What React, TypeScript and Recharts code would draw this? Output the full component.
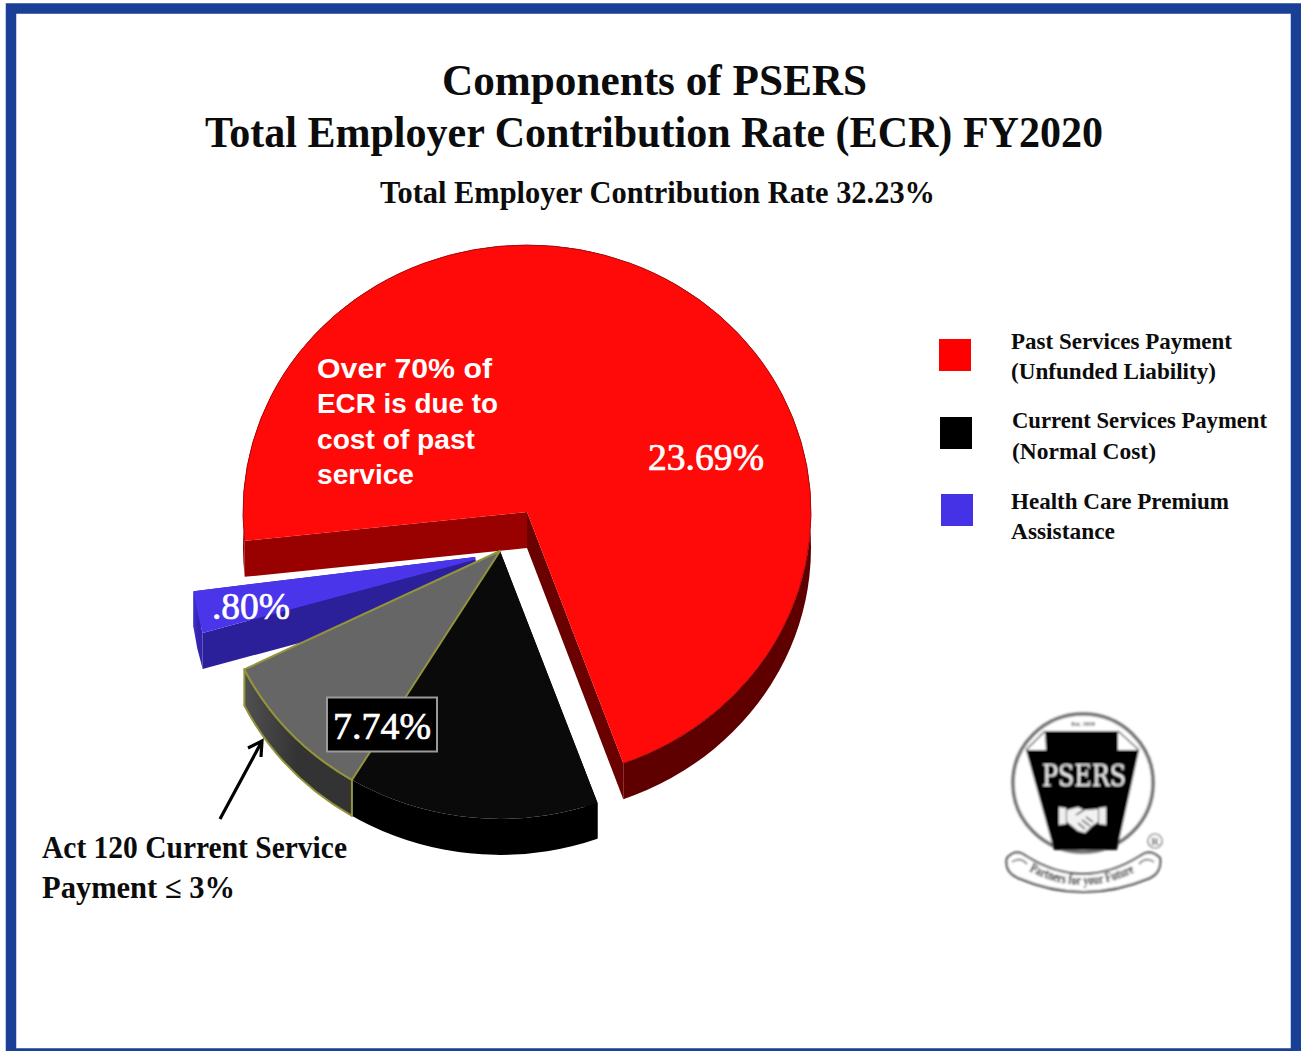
import { PieChart, Pie } from "recharts";

const sliceNames = ["Past Services Payment", "Current Services Payment", "Health Care Premium Assistance"];
const sliceValues = [23.69, 7.74, 0.8];
const act120Ceiling = 3;
const totalRate = sliceValues.reduce((sum, v) => sum + v, 0);

const legendColors = ["#ff0000", "#000000", "#4632e6"];
const legendLines = [
  ["Past Services Payment", "(Unfunded Liability)"],
  ["Current Services Payment", "(Normal Cost)"],
  ["Health Care Premium", "Assistance"],
];

const WIDTH = 1301;
const HEIGHT = 1051;
const TILT = 0.94;
const DEPTH = 36;
// the slices share this sweep, what is left over opens the wedge gaps
const SWEEP = 348.8;
const sweepOf = (v: number) => (v / totalRate) * SWEEP;

const RAD = Math.PI / 180;

type Tones = {
  top: string;
  startWall: string;
  endWall: string;
  rimA: string;
  rimB: string;
  edge?: string;
  faceEdge?: string;
};

// draws a sector as a tilted, extruded wedge
const extruded = (id: string, tones: Tones) => (props: any) => {
  const { cx, cy, innerRadius, outerRadius, startAngle, endAngle } = props;
  const rx = outerRadius;
  const ry = outerRadius * TILT;
  const pt = (r: number, a: number) => [cx + r * Math.cos(a * RAD), cy - r * TILT * Math.sin(a * RAD)];
  const [sx, sy] = pt(rx, startAngle);
  const [ex, ey] = pt(rx, endAngle);
  const [ax, ay] = pt(innerRadius, startAngle);
  const [bx, by] = pt(innerRadius, endAngle);
  const large = Math.abs(startAngle - endAngle) > 180 ? 1 : 0;

  const arc = `M${sx},${sy} A${rx},${ry} 0 ${large} 1 ${ex},${ey}`;
  const face = `M${ax},${ay} L${sx},${sy} A${rx},${ry} 0 ${large} 1 ${ex},${ey} L${bx},${by} Z`;
  const band = `${arc} L${ex},${ey + DEPTH} A${rx},${ry} 0 ${large} 0 ${sx},${sy + DEPTH} Z`;
  const wallA = `M${ax},${ay} L${sx},${sy} L${sx},${sy + DEPTH} L${ax},${ay + DEPTH} Z`;
  const wallB = `M${bx},${by} L${ex},${ey} L${ex},${ey + DEPTH} L${bx},${by + DEPTH} Z`;
  const edge = tones.edge ? { stroke: tones.edge, strokeWidth: 2, strokeLinejoin: "round" as const } : {};

  return (
    <g>
      <defs>
        <linearGradient id={`rim-${id}`} x1="0" y1="0" x2="1" y2="0">
          <stop offset="0%" stopColor={tones.rimA} />
          <stop offset="50%" stopColor={tones.rimB} />
          <stop offset="100%" stopColor={tones.rimB} />
        </linearGradient>
      </defs>
      <path d={wallA} fill={tones.startWall} />
      <path d={wallB} fill={tones.endWall} />
      <path d={band} fill={`url(#rim-${id})`} {...edge} />
      <path d={face} fill={tones.top} {...edge} />
      {tones.faceEdge && <path d={arc} fill="none" stroke={tones.faceEdge} strokeWidth={1} />}
    </g>
  );
};

const redShape = extruded("red", {
  top: "#ff0a08",
  startWall: "#990000",
  endWall: "#6a0000",
  rimA: "#990000",
  rimB: "#5e0000",
  faceEdge: "#a80c0c",
});
const blackShape = extruded("black", {
  top: "#0a0a0a",
  startWall: "#000000",
  endWall: "#000000",
  rimA: "#000000",
  rimB: "#000000",
});
const greyShape = extruded("grey", {
  top: "#666666",
  startWall: "none",
  endWall: "none",
  rimA: "#505050",
  rimB: "#333333",
  edge: "#93933c",
});
const blueShape = extruded("blue", {
  top: "#4a35ea",
  startWall: "#2c1f9a",
  endWall: "#2c1f9a",
  rimA: "#4030d0",
  rimB: "#3324ae",
});

const SERIF = "'Liberation Serif', serif";

type LineProps = {
  x: number;
  y: number;
  size: number;
  len: number;
  fill?: string;
  weight?: string;
  halo?: number;
  children: string;
};

const Line = ({ x, y, size, len, fill = "#0c0c0c", weight = "bold", halo = 0, children }: LineProps) => (
  <text
    x={x}
    y={y}
    fontFamily={SERIF}
    fontWeight={weight}
    fontSize={size}
    fill={fill}
    stroke={halo ? fill : "none"}
    strokeWidth={halo}
    textLength={len}
    lengthAdjust="spacingAndGlyphs"
  >
    {children}
  </text>
);

const legendRows = [
  { box: [939, 339], text: [1011, 349, 221, 379, 205] },
  { box: [940, 417], text: [1012, 428, 255, 459, 144] },
  { box: [941, 494], text: [1011, 509, 218, 539, 104] },
];

const calloutLines = ["Over 70% of", "ECR is due to", "cost of past", "service"];
const calloutWidths = [175, 181, 158, 97];

const fmt = (v: number) => `${v.toFixed(2).replace(/^0/, "")}%`;

function Keystone() {
  return (
    <g filter="url(#logoBlur)">
      <ellipse cx={1083} cy={783} rx={70} ry={69} fill="#fff" stroke="#6f6f6f" strokeWidth={3.5} />
      <path
        d="M1045,731 L1118,731 L1118,750 L1139,750 L1117,850 L1054,850 L1026,750 L1046,750 Z"
        fill="#050505"
      />
      <path d="M1045,731 L1026,750 M1118,731 L1139,750" stroke="#555" strokeWidth={1.5} fill="none" />
      <text x={1083} y={726} textAnchor="middle" fontSize={6} fontFamily={SERIF} fontWeight="bold" fill="#222">
        Est. 1919
      </text>
      <text
        x={1042}
        y={786}
        fontSize={30}
        fontFamily="'DejaVu Serif Condensed', 'Liberation Serif', serif"
        fill="#f4f4f4"
        textLength={84}
        lengthAdjust="spacingAndGlyphs"
      >
        PSERS
      </text>
      {/* handshake */}
      <path d="M1059,807 L1066,808 L1066,824 L1059,825 Z M1106,807 L1099,808 L1099,824 L1106,825 Z" fill="#eee" />
      <path
        d="M1067,810 L1078,807 L1084,810 L1098,809 L1098,822 L1092,826 L1085,833 L1078,831 L1067,822 Z"
        fill="#f2f2f2"
      />
      <path d="M1076,815 L1084,810 M1082,820 L1090,826 M1078,823 L1085,829 M1086,817 L1093,822" stroke="#111" strokeWidth={1.2} />
      {/* banner */}
      <path
        d="M1007,858 Q1016,848 1026,856 Q1083,892 1140,856 Q1150,848 1160,858 Q1162,872 1150,878 Q1083,906 1018,878 Q1004,872 1007,858 Z"
        fill="#fff"
        stroke="#333"
        strokeWidth={2}
      />
      <path d="M1012,862 Q1020,856 1027,864 M1154,862 Q1146,856 1139,864" stroke="#444" strokeWidth={1.5} fill="none" />
      <path id="bannerArc" d="M1029,871 Q1083,899 1139,870" fill="none" />
      <text fontFamily={SERIF} fontWeight="bold" fontSize={14} fill="#000">
        <textPath href="#bannerArc" textLength={110} lengthAdjust="spacingAndGlyphs">
          Partners for your Future
        </textPath>
      </text>
      <circle cx={1155} cy={841} r={7} fill="#fff" stroke="#555" strokeWidth={1.2} />
      <text x={1155} y={845} textAnchor="middle" fontSize={10} fontFamily={SERIF} fontWeight="bold" fill="#444">
        R
      </text>
    </g>
  );
}

export default function App() {
  const [red, black, blue] = sliceValues;
  const redStart = 186.2;
  const blackStart = -70;
  const blackEnd = blackStart - sweepOf(black);
  const blueStart = 196;

  return (
    <div style={{ position: "absolute", left: 0, top: 0, width: WIDTH, height: HEIGHT, background: "#fff" }}>
      <PieChart width={WIDTH} height={HEIGHT} margin={{ top: 0, right: 0, bottom: 0, left: 0 }}>
        <Pie
          data={[{ name: sliceNames[0], value: red }]}
          dataKey="value"
          cx={527}
          cy={512}
          outerRadius={284}
          startAngle={redStart}
          endAngle={redStart - sweepOf(red)}
          stroke="none"
          fill="#ff0a08"
          shape={redShape}
          inactiveShape={redShape}
          isAnimationActive={false}
        />
        <Pie
          data={[{ name: sliceNames[2], value: blue }]}
          dataKey="value"
          cx={492}
          cy={555}
          innerRadius={17}
          outerRadius={301}
          startAngle={blueStart}
          endAngle={blueStart - sweepOf(blue)}
          stroke="none"
          fill="#4a35ea"
          shape={blueShape}
          inactiveShape={blueShape}
          isAnimationActive={false}
        />
        <Pie
          data={[{ name: sliceNames[1], value: black }]}
          dataKey="value"
          cx={500}
          cy={551}
          outerRadius={285}
          startAngle={blackStart}
          endAngle={blackEnd}
          stroke="none"
          fill="#0a0a0a"
          shape={blackShape}
          inactiveShape={blackShape}
          isAnimationActive={false}
        />
        <Pie
          data={[{ name: "Act 120 Current Service Payment", value: act120Ceiling }]}
          dataKey="value"
          cx={500}
          cy={551}
          outerRadius={285}
          startAngle={blackEnd + sweepOf(act120Ceiling)}
          endAngle={blackEnd}
          stroke="none"
          fill="#666666"
          shape={greyShape}
          inactiveShape={greyShape}
          isAnimationActive={false}
        />
      </PieChart>

      <svg width={WIDTH} height={HEIGHT} style={{ position: "absolute", left: 0, top: 0, pointerEvents: "none" }}>
        <defs>
          <filter id="logoBlur">
            <feGaussianBlur stdDeviation="0.8" />
          </filter>
        </defs>
        <rect x={11} y={8.5} width={1285} height={1045} fill="none" stroke="#1a3f96" strokeWidth={10.5} />

        <Line x={442} y={95} size={44} len={425}>Components of PSERS</Line>
        <Line x={205} y={147} size={44} len={898}>Total Employer Contribution Rate (ECR) FY2020</Line>
        <Line x={380} y={203} size={32} len={555}>{`Total Employer Contribution Rate ${totalRate.toFixed(2)}%`}</Line>

        {calloutLines.map((line, i) => (
          <text
            key={line}
            x={317}
            y={378 + i * 35.3}
            fontFamily="'Liberation Sans', sans-serif"
            fontWeight="bold"
            fontSize={28}
            fill="#fff"
            textLength={calloutWidths[i]}
            lengthAdjust="spacingAndGlyphs"
          >
            {line}
          </text>
        ))}

        <Line x={648} y={470} size={38} len={116} fill="#fff" weight="normal" halo={0.7}>{fmt(red)}</Line>
        <Line x={212} y={619} size={38} len={78} fill="#fff" weight="normal" halo={0.7}>{fmt(blue)}</Line>
        <rect x={327} y={697.5} width={110} height={54} fill="#000" stroke="#9a9a9a" strokeWidth={2} />
        <Line x={333} y={739} size={38} len={98} fill="#fff" weight="normal" halo={0.7}>{fmt(black)}</Line>

        {/* arrow to the Act 120 wedge */}
        <path
          d="M220,819 L261,743 M248,748 L262,741 L261,757"
          fill="none"
          stroke="#000"
          strokeWidth={3.2}
        />
        <Line x={42} y={858} size={31} len={305}>Act 120 Current Service</Line>
        <Line x={42} y={898} size={31} len={193}>{`Payment ≤ ${act120Ceiling}%`}</Line>

        {legendRows.map((row, i) => (
          <g key={legendLines[i][0]}>
            <rect x={row.box[0]} y={row.box[1]} width={32} height={32} fill={legendColors[i]} />
            <Line x={row.text[0]} y={row.text[1]} size={24} len={row.text[2]}>{legendLines[i][0]}</Line>
            <Line x={row.text[0]} y={row.text[3]} size={24} len={row.text[4]}>{legendLines[i][1]}</Line>
          </g>
        ))}

        <Keystone />
      </svg>
    </div>
  );
}
